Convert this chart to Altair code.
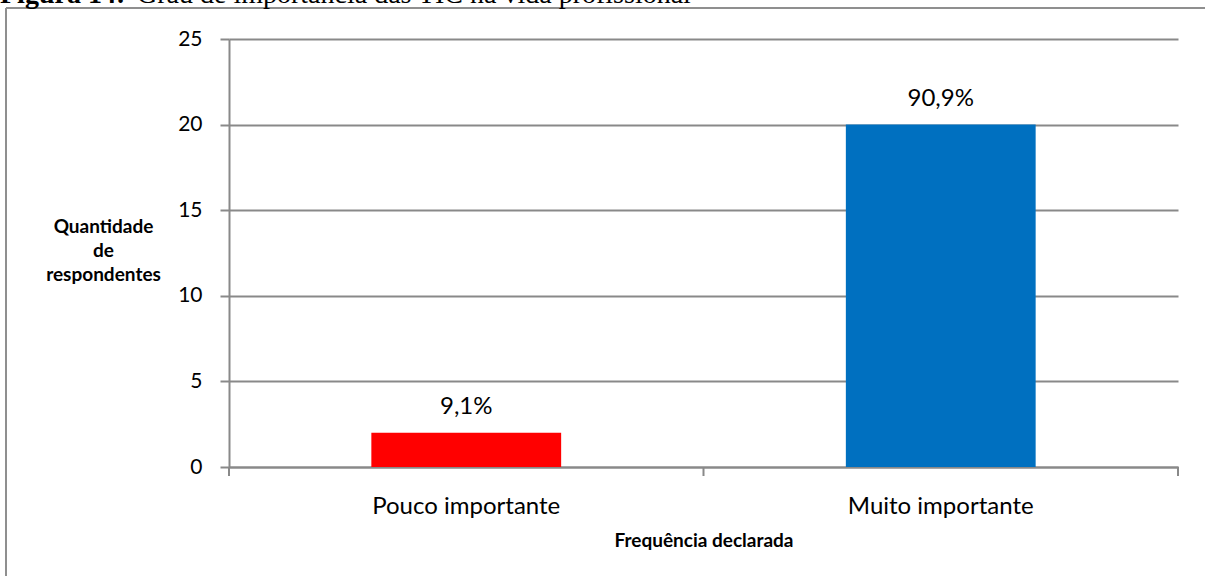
import altair as alt
import pandas as pd

# Survey answers: how important ICT is in professional life
categories = ["Pouco importante", "Muito importante"]
respondents = [2, 20]
bar_colors = ["#FF0000", "#0070C0"]
y_ticks = [0, 5, 10, 15, 20, 25]
category_edges = [0, 1, 2]

total = sum(respondents)
shares = [f"{v / total * 100:.1f}%".replace(".", ",") for v in respondents]

bars_df = pd.DataFrame(
    {"cat": categories, "n": respondents, "label": shares, "color": bar_colors}
)
edges_df = pd.DataFrame({"edge": category_edges})
blank = alt.Data(values=[{}])

W, H = 949, 428
PAD = {"left": 229, "top": 39, "right": 27, "bottom": 109}

FONT = "Lato"
GRAY = "#898989"
TICK_SIZE = 21
CAT_SIZE = 24
TITLE_SIZE = 19

x_band = alt.X(
    "cat:N",
    sort=categories,
    scale=alt.Scale(paddingInner=0, paddingOuter=0),
    axis=alt.Axis(
        title="Frequência declarada",
        labelAngle=0,
        labelLimit=0,
        ticks=False,
        tickSize=0,
        labelPadding=27,
        labelFont=FONT,
        labelFontSize=CAT_SIZE,
        labelColor="black",
        titleFont=FONT,
        titleFontSize=TITLE_SIZE,
        titleFontWeight="bold",
        titleColor="black",
        titlePadding=13,
        domainColor=GRAY,
        domainWidth=2,
        grid=False,
    ),
)

y_lin = alt.Y(
    "n:Q",
    scale=alt.Scale(domain=[0, 25], nice=False),
    axis=alt.Axis(
        values=y_ticks,
        grid=True,
        gridColor=GRAY,
        gridWidth=2,
        tickColor=GRAY,
        tickSize=9,
        tickWidth=2,
        domainColor=GRAY,
        domainWidth=2,
        labelPadding=18,
        labelFont=FONT,
        labelFontSize=TICK_SIZE,
        labelColor="black",
        title=["Quantidade", "de", "respondentes"],
        titleAngle=0,
        titleAlign="center",
        titleBaseline="top",
        titleX=-126,
        titleY=178,
        titleFont=FONT,
        titleFontSize=TITLE_SIZE,
        titleFontWeight="bold",
        titleColor="black",
        titleLineHeight=24,
    ),
)

bars = (
    alt.Chart(bars_df)
    .mark_bar(width=alt.RelativeBandSize(0.4))
    .encode(x=x_band, y=y_lin, color=alt.Color("color:N", scale=None))
)

values_text = (
    alt.Chart(bars_df)
    .mark_text(baseline="alphabetic", dy=-19, font=FONT, fontSize=CAT_SIZE, color="black")
    .encode(
        x=alt.X("cat:N", sort=categories, scale=alt.Scale(paddingInner=0, paddingOuter=0), axis=None),
        y=alt.Y("n:Q", scale=alt.Scale(domain=[0, 25], nice=False)),
        text="label:N",
    )
)

# tick marks at the category boundaries of the x axis
edge_ticks = (
    alt.Chart(edges_df)
    .mark_rule(color=GRAY, strokeWidth=2)
    .encode(
        x=alt.X("edge:Q", scale=alt.Scale(domain=[0, 2], nice=False, zero=False), axis=None),
        y=alt.value(H),
        y2=alt.value(H + 9),
    )
)

# frame around the figure (top and left edges)
frame_top = alt.Chart(blank).mark_rule(color="#8f8f8f", strokeWidth=2).encode(
    x=alt.value(-223), x2=alt.value(976), y=alt.value(-31)
)
frame_left = alt.Chart(blank).mark_rule(color="#8f8f8f", strokeWidth=2).encode(
    x=alt.value(-223), y=alt.value(-31), y2=alt.value(537)
)

# figure caption above the frame
caption_bold = alt.Chart(blank).mark_text(
    align="left", baseline="alphabetic", font="Liberation Serif", fontSize=28,
    fontWeight="bold", color="black"
).encode(x=alt.value(-229), y=alt.value(-36), text=alt.value("Figura 14:"))
caption_rest = alt.Chart(blank).mark_text(
    align="left", baseline="alphabetic", font="Liberation Serif", fontSize=28,
    color="black"
).encode(
    x=alt.value(-229 + 137),
    y=alt.value(-36),
    text=alt.value("Grau de importância das TIC na vida profissional"),
)

chart = (
    alt.layer(edge_ticks, bars, values_text, frame_top, frame_left, caption_bold, caption_rest)
    .resolve_scale(x="independent")
    .properties(
        width=W,
        height=H,
        padding=PAD,
        autosize=alt.AutoSizeParams(type="none"),
        background="white",
    )
    .configure_view(stroke=None)
)

chart.save("out.html", embed_options={"renderer": "svg", "actions": False})
